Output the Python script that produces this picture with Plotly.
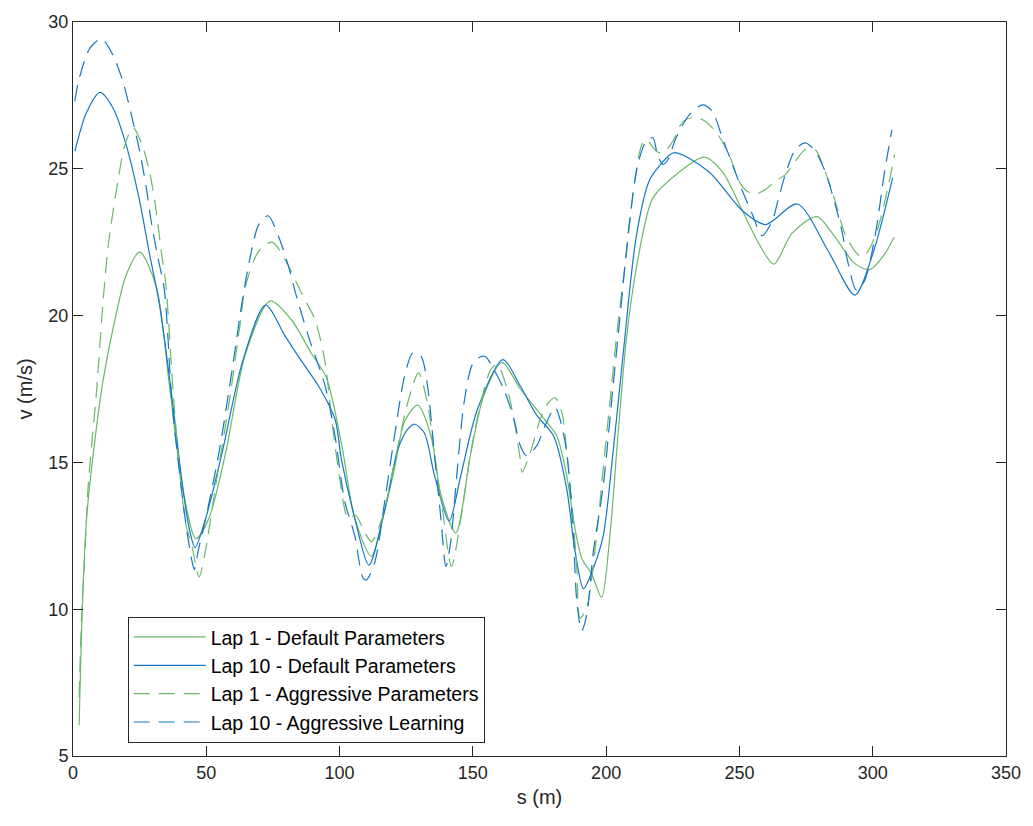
import plotly.graph_objects as go

# Lap 1 - Default Parameters (green solid)
s_l1_def = [2.3, 3.6, 5.1, 7.6, 11.3, 15.7, 20.0, 25.0, 31.2, 36.2, 41.0, 46.1, 51.0, 57.3, 64.7, 74.0,
            82.0, 89.5, 95.0, 100.8, 105.7, 111.9, 116.5, 120.6, 124.4, 129.3, 134.3, 138.0, 143.6, 149.2,
            154.2, 161.0, 167.8, 176.6, 181.5, 185.2, 188.3, 191.0, 194.6, 198.3, 201.4, 204.5, 207.6,
            211.3, 217.5, 226.2, 236.8, 243.6, 251.1, 257.3, 262.9, 269.7, 279.0, 285.9, 293.3, 298.9,
            304.5, 308.0]
v_l1_def = [6.05, 10.3, 13.1, 15.3, 17.8, 19.85, 21.4, 22.16, 21.0, 17.6, 14.2, 12.4, 13.1, 15.35, 18.7, 20.5,
            19.85, 18.7, 17.9, 15.6, 13.1, 11.8, 13.2, 14.8, 16.4, 16.95, 15.9, 13.9, 12.6, 15.3,
            17.3, 18.4, 17.5, 16.5, 15.9, 14.55, 12.75, 11.7, 11.2, 10.4, 12.5, 16.0, 19.2,
            21.6, 24.0, 24.8, 25.4, 24.9, 23.57, 22.45, 21.75, 22.8, 23.37, 22.67, 21.77, 21.57,
            22.1, 22.67]

# Lap 10 - Default Parameters (blue solid)
s_l10_def = [0.7, 5.0, 10.1, 15.0, 20.0, 25.0, 28.7, 32.4, 37.4, 41.1, 43.6, 45.8, 49.8, 56.0, 63.5, 72.2,
             79.6, 84.6, 92.1, 98.3, 100.7, 105.7, 111.0, 117.0, 121.9, 125.6, 128.3, 131.8, 135.6, 141.1,
             145.5, 151.7, 161.3, 167.8, 174.0, 180.3, 185.2, 188.3, 191.5, 195.2, 198.9, 202.6, 206.4,
             211.3, 216.2, 220.0, 225.5, 238.5, 251.2, 259.8, 271.7, 283.3, 293.3, 300.0, 307.5]
v_l10_def = [25.6, 26.9, 27.6, 27.07, 25.8, 23.9, 22.1, 20.4, 17.0, 14.2, 12.75, 12.1, 13.1, 15.35, 18.4, 20.36,
             19.3, 18.6, 17.6, 16.47, 15.1, 13.1, 11.5, 13.4, 15.45, 16.13, 16.3, 16.0, 14.56, 13.0,
             14.56, 16.8, 18.5, 17.6, 16.6, 15.9, 14.1, 12.0, 10.7, 11.4, 12.5, 15.35, 18.7,
             22.7, 24.6, 25.1, 25.55, 24.9, 23.56, 23.1, 23.8, 22.2, 20.7, 22.1, 24.7]

# Lap 1 - Aggressive Parameters (green dashed)
s_l1_agg = [2.3, 3.2, 4.5, 5.7, 8.8, 11.3, 13.5, 16.9, 19.4, 22.5, 25.6, 28.7, 31.2, 33.1, 34.9, 37.4, 39.9,
            42.4, 44.5, 47.3, 49.5, 51.5, 53.5, 58.5, 62.9, 64.7, 69.7, 74.7, 79.6, 85.8, 90.8, 94.6, 97.0,
            100.0, 103.2, 106.0, 109.5, 112.0, 116.3, 120.6, 125.6, 129.6, 133.0, 135.5, 138.6, 142.0,
            145.5, 149.2, 153.0, 156.7, 159.1, 162.9, 165.4, 167.8, 168.5, 171.6, 175.3, 178.4, 180.9,
            183.4, 185.2, 187.1, 189.0, 190.2, 192.7, 196.4, 198.9, 201.4, 203.9, 207.6, 210.7, 213.4,
            215.0, 218.8, 221.3, 225.0, 228.7, 232.4, 236.2, 241.1, 246.1, 249.8, 253.6, 256.7, 259.8,
            263.5, 267.2, 271.0, 274.7, 278.4, 282.1, 285.9, 289.6, 293.3, 295.8, 298.3, 302.0, 305.7, 308.2]
v_l1_agg = [7.0, 9.7, 12.0, 14.2, 17.4, 20.5, 22.6, 24.6, 25.8, 26.4, 25.9, 24.9, 23.57, 22.2, 21.0, 17.6, 14.8,
            12.87, 12.2, 11.1, 11.9, 13.0, 14.2, 17.0, 19.85, 21.0, 22.2, 22.5, 21.9, 20.75, 19.85, 18.4, 16.5,
            14.5, 13.1, 13.2, 12.6, 12.3, 13.2, 15.0, 17.04, 18.05, 17.0, 15.35, 13.4, 11.46,
            13.1, 15.35, 17.04, 18.16, 18.33, 17.5, 16.47, 15.1, 14.67, 15.35, 16.47, 17.04, 17.2,
            16.7, 15.35, 13.65, 11.4, 9.7, 10.05, 12.5, 14.8, 17.04, 19.3, 22.1, 24.58, 25.83,
            26.0, 25.6, 25.54, 25.94, 26.6, 26.75, 26.67, 26.27, 25.49, 24.58, 24.19, 24.16, 24.3,
            24.58, 24.8, 25.26, 25.66, 25.66, 24.92, 23.9, 22.78, 22.2, 22.0, 22.2, 23.0, 24.36, 25.49]

# Lap 10 - Aggressive Learning (blue dashed)
s_l10_agg = [0.7, 2.0, 6.3, 10.7, 15.0, 18.75, 21.9, 25.0, 27.5, 29.3, 31.8, 34.3, 37.0, 40.0, 42.5, 44.5,
             45.5, 47.0, 49.8, 54.8, 59.7, 63.5, 66.5, 69.7, 73.2, 77.2, 80.9, 83.4, 88.3, 94.6, 98.3,
             102.0, 105.7, 108.8, 110.1, 113.2, 116.9, 120.6, 124.4, 127.5, 130.6, 133.0, 135.5, 138.0,
             139.9, 141.7, 144.2, 146.7, 149.8, 152.9, 154.8, 157.9, 161.6, 165.4, 167.8, 170.1, 174.0,
             177.1, 180.9, 182.7, 185.2, 187.7, 189.0, 190.8, 192.7, 195.2, 198.9, 202.6, 205.1, 208.8,
             211.9, 215.0, 217.5, 219.4, 221.3, 223.1, 226.2, 231.2, 236.2, 239.9, 243.6, 247.4, 251.1,
             254.8, 258.5, 262.3, 264.7, 267.2, 271.0, 274.7, 278.4, 282.1, 285.9, 288.4, 290.8, 293.9,
             297.0, 300.8, 304.5, 307.2]
v_l10_agg = [27.3, 27.96, 29.1, 29.43, 28.87, 27.96, 26.84, 25.6, 24.36, 23.23, 22.0, 20.87, 17.2, 14.6, 12.8, 11.7,
             11.35, 12.0, 13.1, 15.35, 18.16, 20.5, 22.0, 23.1, 23.4, 22.67, 21.66, 20.8, 19.3, 17.6, 15.9,
             13.65, 12.5, 11.06, 11.0, 11.6, 13.65, 15.9, 17.94, 18.73, 18.6, 17.6, 15.35, 13.1,
             11.46, 12.3, 14.8, 17.04, 18.33, 18.6, 18.6, 18.16, 17.5, 16.47, 15.57, 15.23, 15.57,
             16.25, 16.87, 16.47, 15.35, 12.5, 10.27, 9.26, 9.8, 11.96, 14.2, 17.6, 19.85, 23.23,
             25.15, 25.94, 26.06, 25.43, 25.15, 25.3, 26.05, 26.84, 27.18, 26.95, 26.05, 25.15, 24.25,
             23.46, 22.72, 23.23, 24.0, 24.8, 25.66, 25.88, 25.6, 24.92, 23.8, 22.9, 21.77, 20.87,
             21.2, 22.67, 24.92, 26.33]

names = ["Lap 1 - Default Parameters", "Lap 10 - Default Parameters",
         "Lap 1 - Aggressive Parameters", "Lap 10 - Aggressive Learning"]

GREEN = "rgb(105,185,105)"
BLUE = "rgb(20,120,195)"
FONT = "Liberation Sans, Arial, Helvetica, sans-serif"
AX = "#262626"

fig = go.Figure()
series = [(s_l1_def, v_l1_def, GREEN, "solid"),
          (s_l10_def, v_l10_def, BLUE, "solid"),
          (s_l1_agg, v_l1_agg, GREEN, "16px,9px"),
          (s_l10_agg, v_l10_agg, BLUE, "16px,9px")]
for (xs, ys, col, dash), nm in zip(series, names):
    fig.add_trace(go.Scatter(x=xs, y=ys, mode="lines", name=nm,
                             line=dict(color=col, width=1.2, dash=dash, shape="spline", smoothing=0.8)))

axis_common = dict(showline=True, linecolor=AX, linewidth=1, mirror="ticks", ticks="inside",
                   ticklen=10, tickcolor=AX, tickwidth=1, showgrid=False, zeroline=False,
                   tickfont=dict(family=FONT, size=18, color=AX))

fig.update_layout(
    width=1033, height=826,
    margin=dict(l=73, r=21, t=17, b=70),
    paper_bgcolor="white", plot_bgcolor="white",
    font=dict(family=FONT, color=AX),
    xaxis=dict(range=[0, 350], dtick=50, tick0=0,
               title=dict(text="s (m)", font=dict(family=FONT, size=20, color=AX), standoff=8),
               **axis_common),
    yaxis=dict(range=[5, 30], dtick=5, tick0=5,
               title=dict(text="v (m/s)", font=dict(family=FONT, size=20, color=AX), standoff=10),
               **axis_common),
    legend=dict(x=0.0586, y=0.018, xanchor="left", yanchor="bottom",
                bgcolor="white", bordercolor=AX, borderwidth=1,
                font=dict(family=FONT, size=19.5, color="black"),
                itemwidth=72, tracegroupgap=0),
    showlegend=True,
)

fig.write_html("out.html")
